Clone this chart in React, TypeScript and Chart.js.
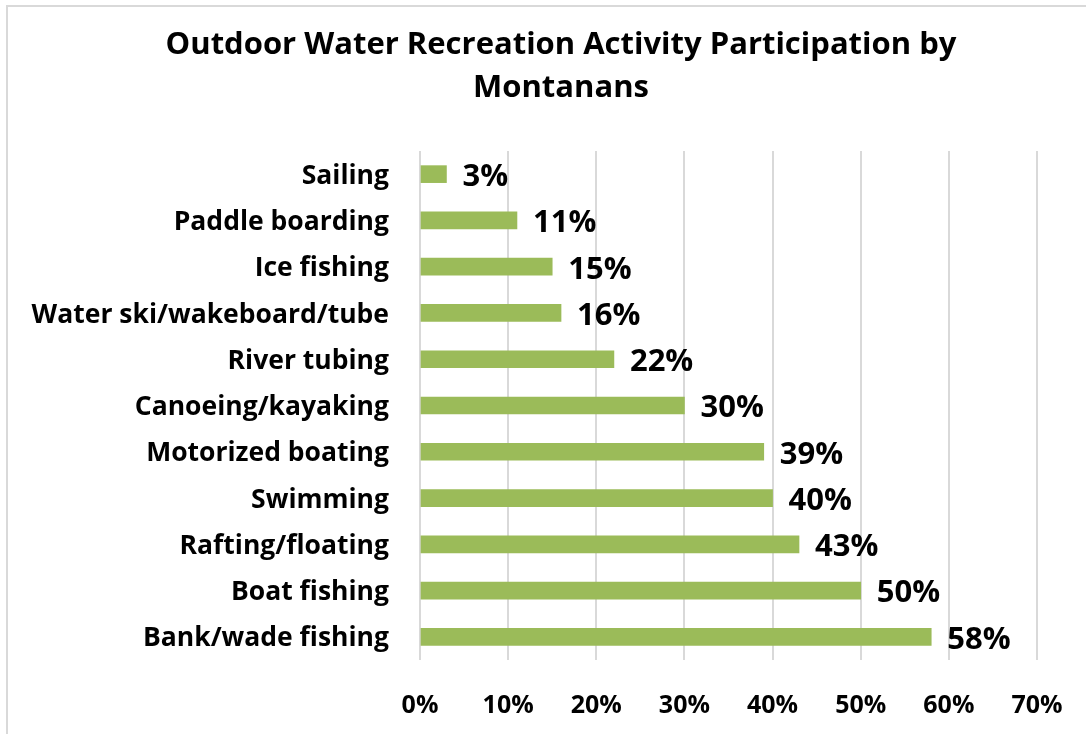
import React, { useEffect, useRef } from "react";
import { Chart, registerables } from "chart.js";

Chart.register(...registerables);

const titleLines = ["Outdoor Water Recreation Activity Participation by", "Montanans"];
const categories = [
  "Sailing",
  "Paddle boarding",
  "Ice fishing",
  "Water ski/wakeboard/tube",
  "River tubing",
  "Canoeing/kayaking",
  "Motorized boating",
  "Swimming",
  "Rafting/floating",
  "Boat fishing",
  "Bank/wade fishing",
];
const values = [3, 11, 15, 16, 22, 30, 39, 40, 43, 50, 58];
const axisMin = 0;
const axisMax = 70;
const axisStep = 10;

const FONT = "'Open Sans', Lato, sans-serif";

export default function App() {
  const ref = useRef<HTMLCanvasElement>(null);

  useEffect(() => {
    if (!ref.current) return;
    const dataLabelPlugin = {
      id: "dataLabels",
      afterDatasetsDraw(chart: any) {
        const ctx = chart.ctx;
        const meta = chart.getDatasetMeta(0);
        ctx.save();
        ctx.font = `bold 31px ${FONT}`;
        ctx.fillStyle = "#000000";
        ctx.textBaseline = "middle";
        ctx.textAlign = "left";
        meta.data.forEach((bar: any, i: number) => {
          ctx.fillText(`${values[i]}%`, bar.x + 16, bar.y + 3);
        });
        ctx.restore();
      },
    };

    const titlePlugin = {
      id: "centeredTitle",
      afterDraw(chart: any) {
        const ctx = chart.ctx;
        ctx.save();
        ctx.font = `bold 31px ${FONT}`;
        ctx.fillStyle = "#000000";
        ctx.textBaseline = "middle";
        ctx.textAlign = "center";
        const cx = chart.width / 2;
        const lh = 43.4;
        titleLines.forEach((line, i) => {
          ctx.fillText(line, cx, 23 + lh / 2 + i * lh);
        });
        ctx.restore();
      },
    };

    const chart = new Chart(ref.current, {
      type: "bar",
      data: {
        labels: categories,
        datasets: [
          {
            data: values,
            backgroundColor: "#9BBB59",
            borderWidth: 0,
            barThickness: 17,
          },
        ],
      },
      options: {
        indexAxis: "y",
        responsive: false,
        animation: false,
        layout: { padding: { left: 0, right: 79, top: 151, bottom: 0 } },
        plugins: {
          legend: { display: false },
          tooltip: { enabled: false },
          title: { display: false },
        },
        scales: {
          x: {
            min: axisMin,
            max: axisMax,
            ticks: {
              stepSize: axisStep,
              callback: (v: any) => `${v}%`,
              color: "#000000",
              font: { family: FONT, size: 25, weight: "bold" },
              padding: 31,
              maxRotation: 0,
            },
            grid: { color: "#d9d9d9", lineWidth: 2, drawTicks: false },
            border: { display: false },
            afterFit: (s: any) => {
              s.height = 74;
            },
          },
          y: {
            ticks: {
              color: "#000000",
              font: { family: FONT, size: 26.5, weight: "bold" },
              padding: 31,
              labelOffset: 2,
            },
            grid: { display: false, drawTicks: false },
            border: { display: false },
            afterFit: (s: any) => {
              s.width = 414;
            },
          },
        },
      },
      plugins: [dataLabelPlugin, titlePlugin],
    } as any);

    return () => chart.destroy();
  }, []);

  return (
    <div
      style={{
        position: "fixed",
        left: 0,
        top: 0,
        width: 1086,
        height: 734,
        overflow: "hidden",
        background: "#ffffff",
      }}
    >
      <div
        style={{
          position: "absolute",
          left: 6,
          top: 5,
          width: 1200,
          height: 800,
          border: "2px solid #d9d9d9",
          boxSizing: "border-box",
        }}
      />
      <canvas
        ref={ref}
        width={1110}
        height={734}
        style={{ position: "absolute", left: 6, top: 0, width: 1110, height: 734 }}
      />
    </div>
  );
}
